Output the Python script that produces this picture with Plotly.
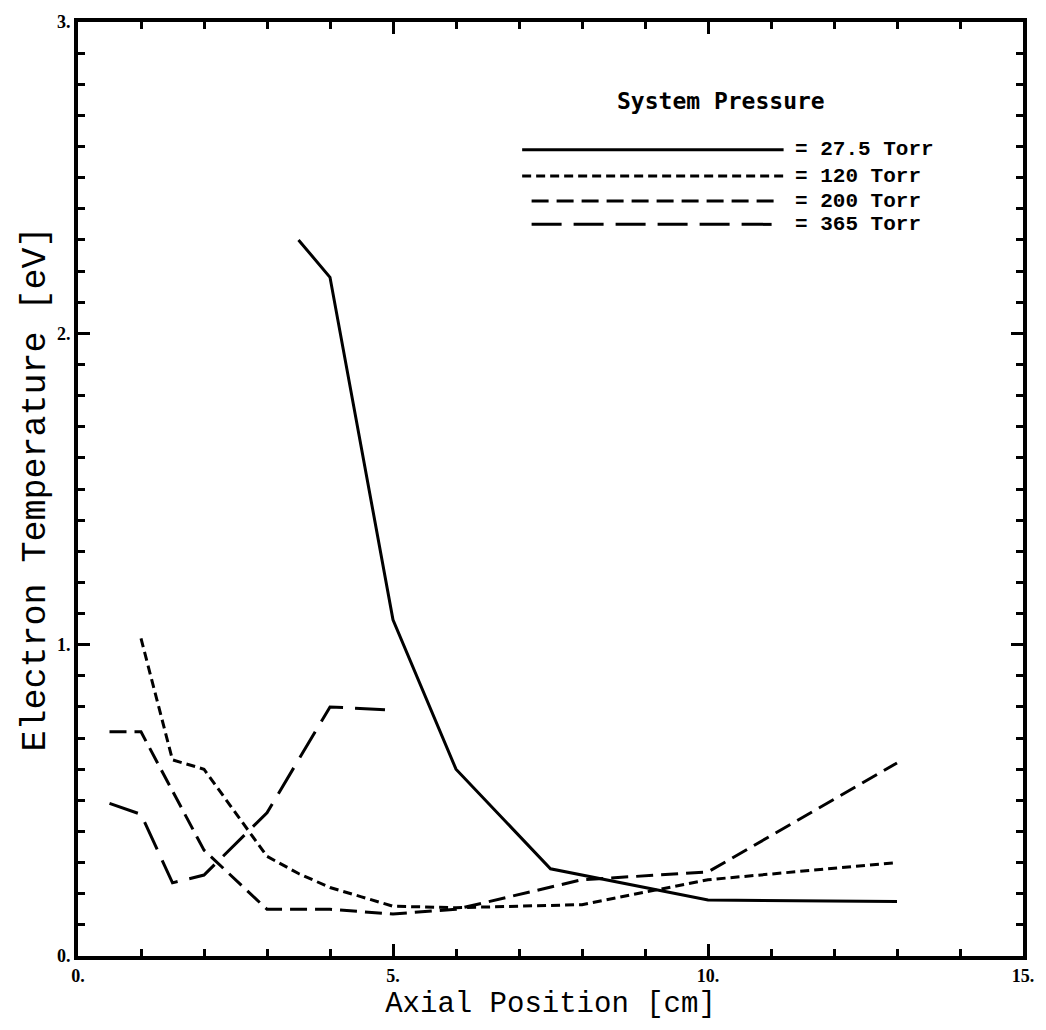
import plotly.graph_objects as go

# Axial position [cm] and electron temperature [eV] for each system pressure
x_275 = [3.5, 4.0, 5.0, 6.0, 7.5, 10.0, 13.0]
te_275 = [2.30, 2.18, 1.08, 0.60, 0.28, 0.18, 0.175]

x_120 = [1.0, 1.5, 2.0, 3.0, 3.5, 4.0, 4.5, 5.0, 6.0, 8.0, 10.0, 13.0]
te_120 = [1.02, 0.63, 0.60, 0.32, 0.265, 0.22, 0.19, 0.16, 0.155, 0.165, 0.245, 0.30]

x_200 = [0.5, 1.0, 2.0, 3.0, 4.0, 5.0, 6.0, 8.0, 10.0, 13.0]
te_200 = [0.72, 0.72, 0.34, 0.15, 0.15, 0.135, 0.15, 0.245, 0.27, 0.62]

x_365 = [0.5, 1.0, 1.5, 2.0, 3.0, 4.0, 5.0]
te_365 = [0.49, 0.455, 0.235, 0.26, 0.46, 0.80, 0.79]

series_labels = ["= 27.5 Torr", "= 120 Torr", "= 200 Torr", "= 365 Torr"]
x_tick_vals = [0, 5, 10, 15]
x_tick_text = ["0.", "5.", "10.", "15."]
y_tick_vals = [0, 1, 2, 3]
y_tick_text = ["0.", "1.", "2.", "3."]

dashes = ["solid", "9px,5px", "17px,8px", "30px,12px"]
series = [(x_275, te_275), (x_120, te_120), (x_200, te_200), (x_365, te_365)]

fig = go.Figure()
for (xs, ys), dash, name in zip(series, dashes, series_labels):
    fig.add_trace(go.Scatter(
        x=xs, y=ys, mode="lines", name=name, showlegend=False,
        line=dict(color="black", width=3, dash=dash),
    ))

# Hand-drawn key in the upper right
key_y = [2.59, 2.505, 2.425, 2.35]
key_x0 = [7.05, 7.05, 7.2, 7.2]
key_x1 = [11.2, 11.2, 11.1, 11.1]
for ky, kx0, kx1, dash, name in zip(key_y, key_x0, key_x1, dashes, series_labels):
    fig.add_shape(type="line", xref="x", yref="y", x0=kx0, x1=kx1, y0=ky, y1=ky,
                  line=dict(color="black", width=3, dash=dash))
    fig.add_annotation(x=11.35, y=ky, xref="x", yref="y", text=name, showarrow=False,
                       xanchor="left", yanchor="middle",
                       font=dict(family="Liberation Mono, Courier New, monospace",
                                 size=21, color="black", weight="bold"))

fig.add_annotation(x=10.2, y=2.745, xref="x", yref="y", text="System Pressure", showarrow=False,
                   xanchor="center", yanchor="middle",
                   font=dict(family="DejaVu Sans Mono", size=23, color="black", weight="bold"))

axis_common = dict(
    showgrid=False, zeroline=False, showline=True, linecolor="black", linewidth=4,
    mirror="allticks", ticks="inside", tickcolor="black", tickwidth=3, ticklen=12,
    tickfont=dict(family="Liberation Serif", size=18, color="black", weight="bold"),
)

fig.update_xaxes(
    range=[0, 15], tickvals=x_tick_vals, ticktext=x_tick_text,
    minor=dict(dtick=1, ticks="inside", ticklen=7, tickwidth=3, tickcolor="black"),
    title=dict(text="Axial Position [cm]", standoff=8,
               font=dict(family="Liberation Mono, Courier New, monospace", size=29, color="black")),
    **axis_common,
)
fig.update_yaxes(
    range=[0, 3], tickvals=y_tick_vals, ticktext=y_tick_text,
    minor=dict(dtick=0.1, ticks="inside", ticklen=7, tickwidth=3, tickcolor="black"),
    title=dict(text="Electron Temperature [eV]", standoff=2,
               font=dict(family="Liberation Mono, Courier New, monospace", size=35, color="black")),
    **axis_common,
)

fig.update_layout(
    width=1046, height=1030,
    margin=dict(l=78, r=21, t=15, b=74),
    plot_bgcolor="white", paper_bgcolor="white",
)

fig.write_html("out.html")
